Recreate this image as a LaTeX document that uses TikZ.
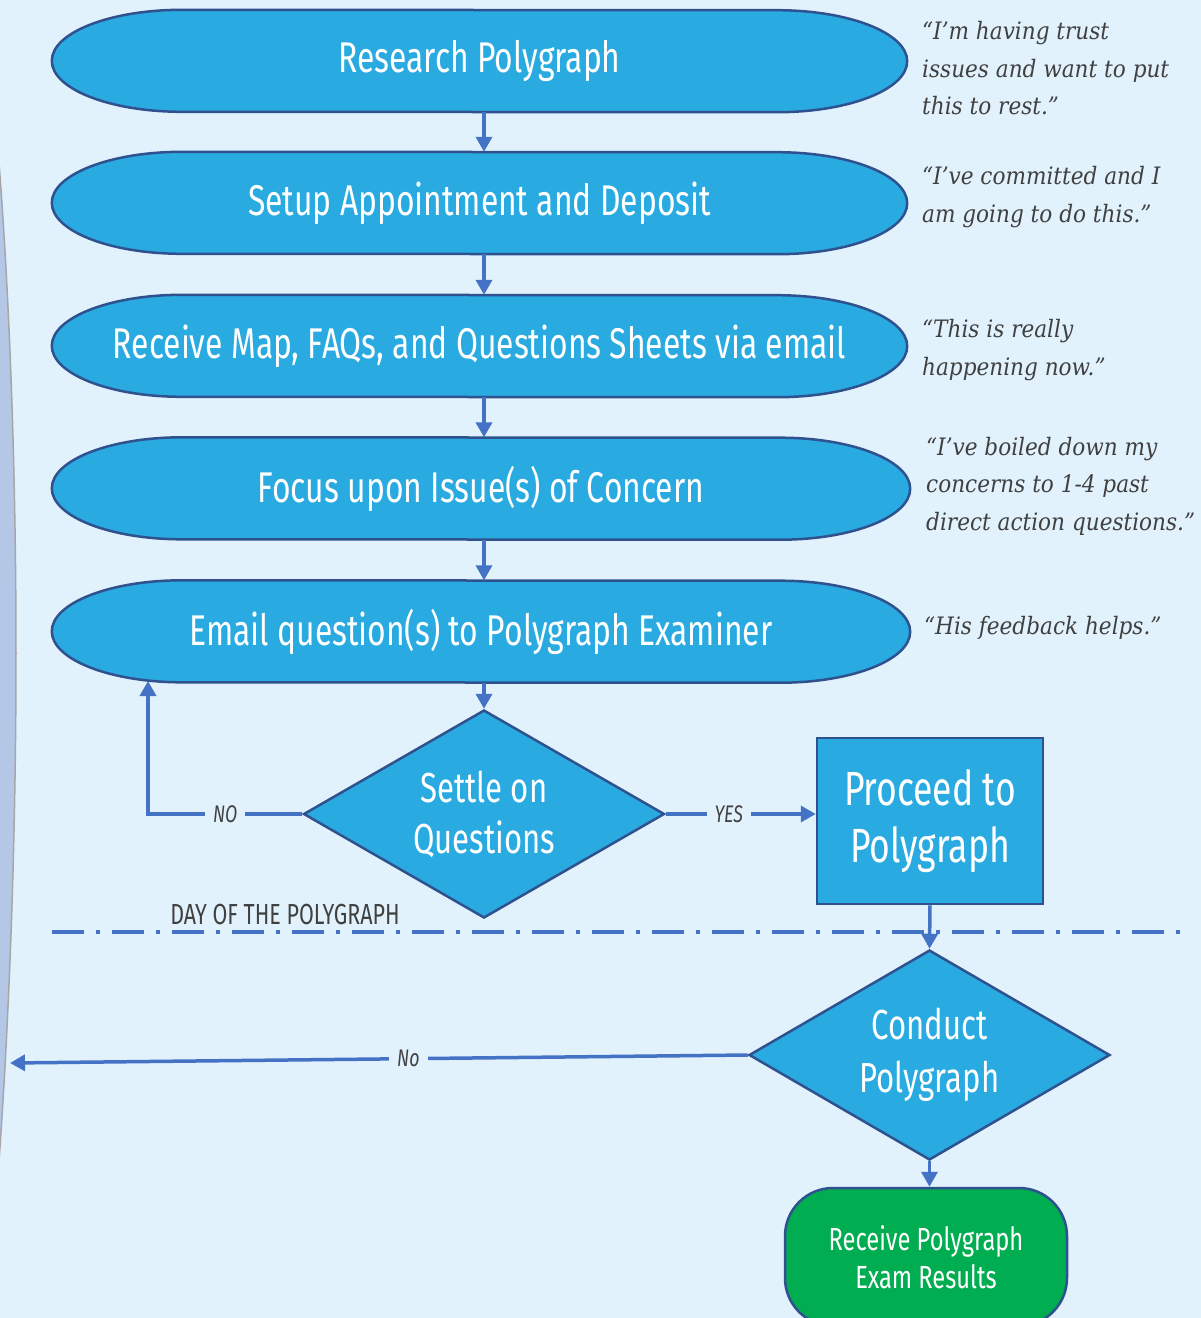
\documentclass[tikz,border=0pt]{standalone}
\usepackage{fontspec}
\setmainfont{Fira Sans}[FakeStretch=0.74]
\newfontfamily\quotefont{DejaVu Serif}[FakeStretch=0.9]
\usetikzlibrary{arrows.meta,shapes.geometric}
\pgfdeclarelayer{back}
\pgfsetlayers{back,main}
\definecolor{pagebg}{RGB}{225,242,253}
\definecolor{termfill}{RGB}{41,170,225}
\definecolor{edgeblue}{RGB}{47,82,143}
\definecolor{flowblue}{RGB}{68,114,196}
\definecolor{textgray}{RGB}{64,64,64}
\definecolor{resultgreen}{RGB}{0,173,80}
\definecolor{band}{RGB}{180,199,231}
\definecolor{bandedge}{RGB}{166,166,166}
\newcommand\stadium[1]{%
  \filldraw[fill=termfill,draw=edgeblue,line width=2.5pt]
    ([xshift=130pt]#1.north west) arc[start angle=90,end angle=270,x radius=130pt,y radius=51pt]
    -- ([xshift=-130pt]#1.south east) arc[start angle=-90,end angle=90,x radius=130pt,y radius=51pt] -- cycle;}
\begin{document}
\begin{tikzpicture}[x=1pt,y=-1pt,
    term/.style={minimum height=102pt,inner sep=0pt,text=white,font=\fontsize{43}{48}\selectfont},
    choice/.style={diamond,aspect=1.74,inner sep=0pt,align=center,draw=edgeblue,line width=2.5pt,fill=termfill,text=white,font=\fontsize{42}{51}\selectfont},
    flow/.style={draw=flowblue,line width=3.5pt,-{Triangle[length=15pt,width=16pt]}},
    lbl/.style={fill=pagebg,text=textgray,inner xsep=8pt,font=\itshape\fontsize{24}{24}\selectfont},
    saying/.style={anchor=west,align=left,inner sep=0pt,text=textgray,font=\quotefont\itshape\fontsize{24}{37.5}\selectfont}]
    \useasboundingbox (0,0) rectangle (1201,1318);
    \clip (0,0) rectangle (1201,1318);
    \node[term,minimum width=855pt] (research) at (479.5,61) {Research Polygraph};
    \node[term,minimum width=855pt] (setup) at (479.5,203) {Setup Appointment and Deposit};
    \node[term,minimum width=855pt] (receive) at (479.5,346) {Receive Map, FAQs, and Questions Sheets via email};
    \node[term,minimum width=858pt] (focus) at (481,488.5) {Focus upon Issue(s) of Concern};
    \node[term,minimum width=858pt] (email) at (481,631.5) {Email question(s) to Polygraph Examiner};
    \node[choice,minimum width=361pt,minimum height=208pt] (settle) at (484,814) {Settle on\\Questions};
    \node[draw=edgeblue,line width=2.5pt,fill=termfill,text=white,align=center,minimum width=226pt,minimum height=166pt,font=\fontsize{48}{57}\selectfont] (proceed) at (930,821) {Proceed to\\Polygraph};
    \node[choice,minimum width=361pt,minimum height=210pt,font=\fontsize{42}{53}\selectfont] (conduct) at (929.5,1055) {Conduct\\Polygraph};
    \node[draw=edgeblue,line width=2.5pt,fill=resultgreen,text=white,align=center,rounded corners=48pt,minimum width=282pt,minimum height=138pt,font=\fontsize{32}{38}\selectfont] (result) at (926,1257) {Receive Polygraph\\Exam Results};
    \node[saying] (q1) at (922,68.5) {“I’m having trust\\issues and want to put\\this to rest.”};
    \node[saying] (q2) at (922,197) {“I’ve committed and I\\am going to do this.”};
    \node[saying] (q3) at (922,350) {“This is really\\happening now.”};
    \node[saying] (q4) at (926,486) {“I’ve boiled down my\\concerns to 1-4 past\\direct action questions.”};
    \node[saying] (q5) at (924,628) {“His feedback helps.”};
    \coordinate (spine) at (484,0);
    \coordinate (noback) at (148,681);
    \coordinate (noexit) at (10,1063);
    \coordinate (dayleft) at (52,932);
    \coordinate (dayright) at (1182,932);
    \draw[flowblue,line width=3.5pt,dash pattern=on 32pt off 12pt on 4pt off 12pt] (dayleft) -- (dayright);
    \node[text=textgray,font=\fontsize{29}{29}\selectfont] (day) at (285,914) {DAY OF THE POLYGRAPH};
    \draw[flow] (research.south -| spine) -- (setup.north -| spine);
    \draw[flow] (setup.south -| spine) -- (receive.north -| spine);
    \draw[flow] (receive.south -| spine) -- (focus.north -| spine);
    \draw[flow] (focus.south -| spine) -- (email.north -| spine);
    \draw[flow] (email.south -| settle.north) -- (settle.north);
    \draw[flow] (settle.west) -- node[lbl] {NO} (settle.west -| noback) -- (noback);
    \draw[flow] (settle.east) -- node[lbl,pos=0.42] {YES} (settle.east -| proceed.west);
    \draw[flow] (proceed.south) -- (conduct.north);
    \draw[flow] (conduct.west) -- node[lbl,pos=0.46] {No} (noexit);
    \draw[flow] (conduct.south) -- (result.north -| conduct.south);
    \begin{pgfonlayer}{back}
        \fill[pagebg] (0,0) rectangle (1201,1318);
        \filldraw[fill=band,draw=bandedge,line width=1.5pt] (-2,150) .. controls (22,450) and (22,850) .. (-2,1175) -- cycle;
        \stadium{research}
        \stadium{setup}
        \stadium{receive}
        \stadium{focus}
        \stadium{email}
    \end{pgfonlayer}
\end{tikzpicture}
\end{document}
